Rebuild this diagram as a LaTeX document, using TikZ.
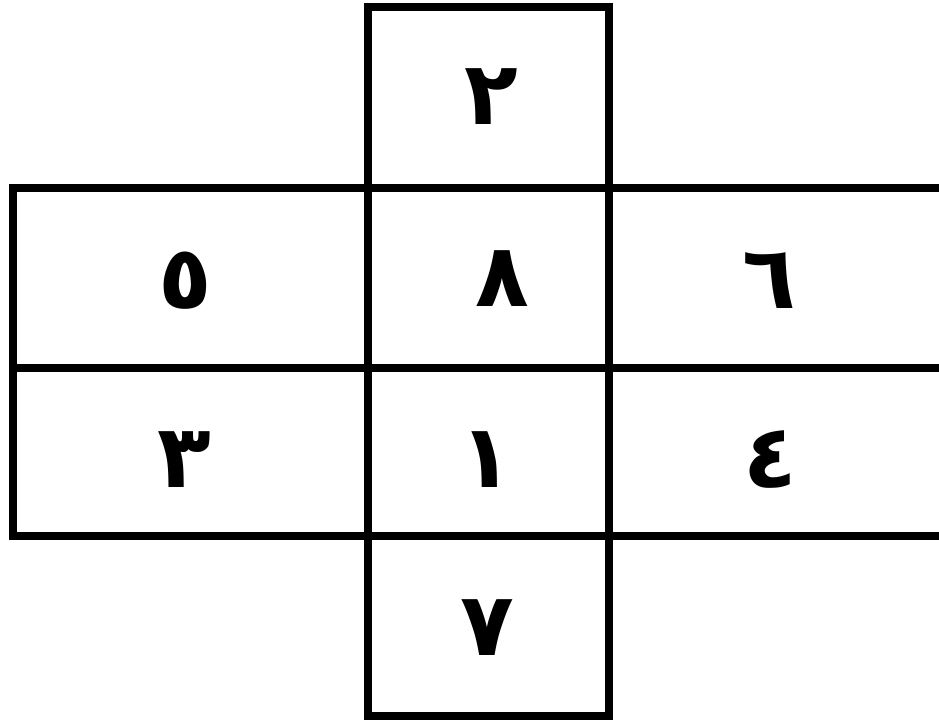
\documentclass[tikz,border=0pt]{standalone}
\usepackage{fontspec}
\newfontfamily\arabicfont[Script=Arabic]{DejaVu Sans}
\TeXXeTstate=1
\usetikzlibrary{positioning}

\tikzset{
    cell/.style={draw, rectangle, line width=8pt, inner sep=0pt, outer sep=0pt},
    digit/.style={anchor=base, inner sep=0pt, font=\arabicfont\bfseries\fontsize{88}{88}\selectfont}
}

\begin{document}
\begin{tikzpicture}[x=1pt, y=-1pt]
    \useasboundingbox (0,0) rectangle (939,720);
    \clip (0,0) rectangle (939,720);

    % Middle column
    \node[cell, minimum width=241.5pt, minimum height=181pt] (top) at (488.25,97.5) {};
    \node[cell, minimum width=241.5pt, minimum height=179.5pt] (midA) at (488.25,277.75) {};
    \node[cell, minimum width=241.5pt, minimum height=168.5pt] (midB) at (488.25,451.75) {};
    \node[cell, minimum width=241.5pt, minimum height=180pt] (bottom) at (488.25,626) {};

    % Left column
    \node[cell, minimum width=355pt, minimum height=179.5pt] (leftA) at (190,277.75) {};
    \node[cell, minimum width=355pt, minimum height=168.5pt] (leftB) at (190,451.75) {};

    % Right column
    \node[cell, minimum width=355pt, minimum height=179.5pt] (rightA) at (786.5,277.75) {};
    \node[cell, minimum width=355pt, minimum height=168.5pt] (rightB) at (786.5,451.75) {};

    % Numbers
    \node[digit] (n2) at (491,124) {\beginR ٢\endR};
    \node[digit] (n8) at (502,306) {\beginR ٨\endR};
    \node[digit] (n5) at (185,308) {\beginR ٥\endR};
    \node[digit] (n6) at (769,308) {\beginR ٦\endR};
    \node[digit] (n3) at (184,487) {\beginR ٣\endR};
    \node[digit] (n1) at (486,487) {\beginR ١\endR};
    \node[digit] (n4) at (770,487) {\beginR ٤\endR};
    \node[digit] (n7) at (487,655) {\beginR ٧\endR};
\end{tikzpicture}
\end{document}
